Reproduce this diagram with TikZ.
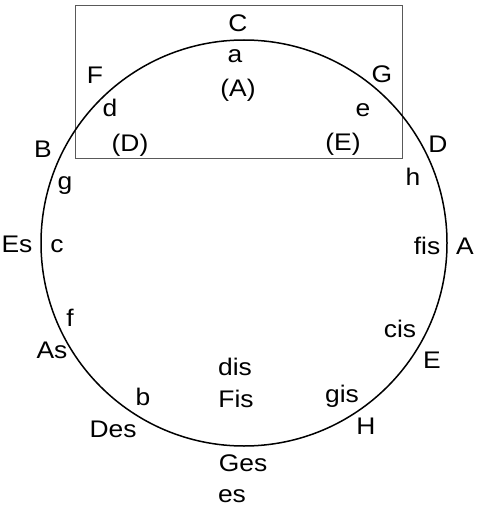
\documentclass[tikz,border=0pt]{standalone}
\usepackage{fontspec}
\setmainfont{Liberation Sans}[FakeStretch=1.1]
\begin{document}
\begin{tikzpicture}[x=1pt,y=-1pt,
  lbl/.style={anchor=base,inner sep=0pt,font=\fontsize{24}{28}\selectfont}]
\useasboundingbox (0,0) rectangle (481,508);
\node[draw=black!65,line width=1pt,minimum width=327pt,minimum height=153pt,inner sep=0pt,anchor=north west] (box) at (75,5) {};
\coordinate (ctr) at (244,243);
\node[draw,line width=1.5pt,circle,minimum size=406pt,inner sep=0pt] (ring) at (ctr) {};
% outer (major)
\node[lbl] (C) at (238,32) {C};
\node[lbl] (G) at (382,83) {G};
\node[lbl] (D) at (438,152) {D};
\node[lbl] (A) at (465,254) {A};
\node[lbl] (E) at (432,368) {E};
\node[lbl] (H) at (366,434) {H};
\node[lbl] (Ges) at (243,471) {Ges};
\node[lbl] (Des) at (113,437) {Des};
\node[lbl] (As) at (52,358) {As};
\node[lbl] (Es) at (17,252) {Es};
\node[lbl] (B) at (43,157) {B};
\node[lbl] (F) at (95,84) {F};
% inner (minor)
\node[lbl] (a) at (235,63) {a};
\node[lbl] (e) at (363,117) {e};
\node[lbl] (h) at (413,185) {h};
\node[lbl] (fis) at (427,254) {fis};
\node[lbl] (cis) at (400,337) {cis};
\node[lbl] (gis) at (342,402) {gis};
\node[lbl] (dis) at (235,375) {dis};
\node[lbl] (Fis) at (236,407) {Fis};
\node[lbl] (es) at (232,502) {es};
\node[lbl] (b) at (143,405) {b};
\node[lbl] (f) at (70,326) {f};
\node[lbl] (c) at (57,252) {c};
\node[lbl] (g) at (65,189) {g};
\node[lbl] (d) at (110,117) {d};
% parallel keys
\node[lbl] (pA) at (238,96) {(A)};
\node[lbl] (pD) at (130,151) {(D)};
\node[lbl] (pE) at (343,150) {(E)};
\end{tikzpicture}
\end{document}
